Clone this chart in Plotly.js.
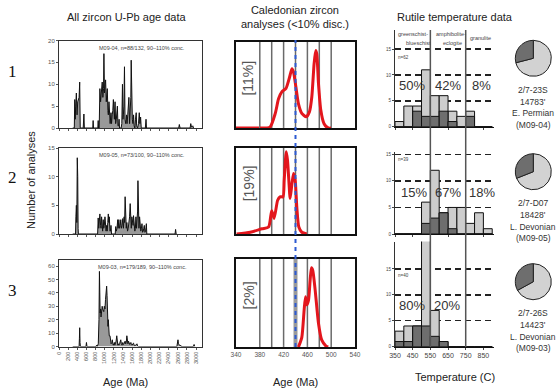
<!DOCTYPE html>
<html><head><meta charset="utf-8">
<script src="https://cdn.plot.ly/plotly-3.0.1.min.js"></script>
<style>html,body{margin:0;padding:0;background:#fff}#c{width:556px;height:388px}</style>
</head><body><div id="c"></div>
<script>
// ---------- DATA ----------
// Left: all zircon U-Pb ages (Ma) and number of analyses
const age1 = [300,335,345,355,365,380,395,410,440,453,465,530,545,555,740,747,755,850,858,866,880,895,910,925,946,960,975,983,995,1010,1020,1035,1045,1057,1070,1080,1094,1110,1120,1138,1150,1165,1178,1190,1200,1212,1227,1240,1255,1278,1290,1305,1315,1325,1360,1375,1389,1400,1410,1420,1433,1445,1460,1478,1490,1505,1520,1530,1545,1560,1572,1580,1590,1605,1618,1632,1645,1660,1675,1690,1700,1720,1740,1757,1770,1786,1800,1890,1905,1915,2620,2634,2650,2870,2884,2900,2928,2945];
const cnt1 = [0,0,6.5,2,5,8,3,6,7,10.5,0,0,3.2,0,0,1.7,0,0,1.7,0,0,9,6,8,10.5,7,9,17,8,10,11,6,8,9,4,3,6,2,1,3.5,1,3,4,6.5,3,2,6,1,2,5,0.5,0.5,2,0,0,1,10,2,3,5,14,2,1,3,1,3,6,7,1,4,7,15.5,3,2,1,3,0.5,0,2,3.5,0.5,0,1,3.5,1,2.5,0,0,2,0,0,0.8,0,0,1,0.2,0.5,0];
const age2 = [300,362,370,380,390,400,410,418,425,845,858,870,882,895,910,920,932,945,955,968,980,992,1006,1020,1030,1043,1055,1068,1079,1090,1101,1115,1125,1138,1150,1230,1242,1255,1270,1285,1295,1310,1325,1340,1352,1365,1380,1397,1410,1425,1436,1447,1460,1472,1485,1500,1515,1530,1545,1558,1570,1582,1595,1610,1622,1631,1645,1660,1672,1684,1697,1710,1720,1728,1738,1750,1764,1775,1790,1805,1816,1828,1845,1855,1867,1880,1895,1905,1912,1922,2540,2552,2565];
const cnt2 = [0,0,3,5,2,13.3,10,1,0,0,2.8,1,2,3.5,1.5,1,3,1,0.5,2.5,1,1.5,3,1,0.5,1.5,0.5,2,3.5,2,3,0.5,0.5,1.5,0,0,1.3,0.5,1,2.5,1,2.5,1,1.5,2.5,1,1.5,2.7,1,3,2,6.5,2,1,2,0.5,1,2,3,5.3,2,1,3,2,1.5,3.2,1,0.5,1,3,1,2,4,9.3,2,1,3,0.5,0.5,1,1.8,0.3,0.5,1,1.5,0.3,0.5,1.2,1.8,0,0,0.8,0];
const age3 = [300,440,447,453,460,468,590,601,612,810,822,835,860,875,885,893,900,910,920,932,945,955,968,980,992,1006,1018,1030,1043,1052,1062,1072,1079,1090,1100,1116,1128,1140,1155,1167,1178,1190,1200,1211,1222,1235,1250,1264,1275,1288,1300,1312,1325,1340,1352,1365,1380,1397,1410,1425,1435,1447,1460,1472,1485,1495,1508,1521,1535,1548,1560,1573,1585,1600,1615,1631,1645,1660,1680,1695,1706,1720,1735,2580,2593,2604,2615,2630,2650,2663,2675,2940,2957,2970];
const cnt3 = [0,0,6,14,3,0,0,3,0,0,1,0,2,20,56,40,25,28,22,25,30,28,27,26,30,28,35,42,45,38,20,15,20,10,8,8,3,2,3,5,2,1,2,3,1,2,4,8,2,1,2,1,2,3,5,2,1,3,1.5,2,3,4,2,3,8,3,2,4,2,1.5,2,3,1.5,1,2,2.5,1,0.5,1,2,2,0.5,0,0,2,5,2,1,0.5,1,0,0,1.5,0];
const sampleLabels = ["M09-04, n=88/132, 90\u2013110% conc.","M09-05, n=73/100, 90\u2013110% conc.","M09-03, n=179/189, 90\u2013110% conc."];
const ageTicks = [0,200,400,600,800,1000,1200,1400,1600,1800,2000,2200,2400,2600,2800,3000];

// Middle: Caledonian zircon probability curves (relative density)
const cal1Age = [340,380,397,406,411.5,417,424,430,434,436.7,440.6,445,450.6,458,463.5,467.4,471.3,474,475.8,478.6,482.5,488,495,500];
const cal1Den = [0,0,0.01,0.17,0.34,0.42,0.46,0.59,0.69,0.65,0.48,0.28,0.17,0.13,0.19,0.36,0.75,0.90,0.86,0.52,0.21,0.05,0,0];
const cal2Age = [341,364,383.6,394.8,400,404,410,414,419,421,424.4,426.6,428.8,431,434,436.7,439.5,442.2,445.6,450.6,459];
const cal2Den = [0,0.02,0.06,0.08,0.27,0.18,0.39,0.43,0.43,0.62,0.95,0.85,0.62,0.41,0.58,0.70,0.62,0.31,0.08,0.02,0];
const cal3Age = [445,450.6,454.5,456.8,459,461.8,464.6,466.8,469,473,478.6,484,491.4,495];
const cal3Den = [0,0.11,0.42,0.57,0.48,0.53,0.76,0.90,0.87,0.65,0.27,0.08,0.01,0];
const calPct = ["[11%]","[19%]","[2%]"];
const calGrid = [380,400,420,440,460,480,500];
const caledonianAge = 440;
const calTicks = [340,380,420,460,500,540];

// Right: rutile temperature histograms (50 C bins)
const tempBins = [375,425,475,525,575,625,675,725,775,825,875];
const r1Total = [1,4,4,11,6,6,3,2,3,0,0];
const r1Dark  = [0,0,3,2,2,3,1,0,2,0,0];
const r2Total = [0,0,0,6,12,4,5,5,2,4,1];
const r2Dark  = [0,0,0,2,3,4,1,0,0,0,0];
const r3Total = [3,4,4,21,7,1,0,0,0,0,0];
const r3Dark  = [1,1,4,4,2,1,0,0,0,0,0];
const faciesBounds = [550,750];
const faciesPct = [["50%","42%","8%"],["15%","67%","18%"],["80%","20%"]];
const faciesPctT = [[445,650,840],[455,650,840],[445,645]];
const rutileN = ["n=62","n=39","n=40"];
const tempTicks = [350,450,550,650,750,850];

// Pies (dark fraction)
const pieDark = [0.29,0.31,0.33];
const pieLabels = [["2/7-23S","14783'","E. Permian","(M09-04)"],["2/7-D07","18428'","L. Devonian","(M09-05)"],["2/7-26S","14423'","L. Devonian","(M09-03)"]];
const rowNames = ["1","2","3"];

// ---------- LAYOUT HELPERS ----------
const W=556,H=388;
const FONT="Liberation Sans, Arial, sans-serif";
const xd=(a,b)=>[a/W,b/W];
const yd=(t,b)=>[1-b/H,1-t/H];
const px=x=>x/W, py=y=>1-y/H;

const leftRows=[[40.5,128],[148,234],[260,346.5]];
const leftYR=[[0,20],[0,15],[0,64.5]];
const leftYT=[[0,5,10,15,20],[0,5,10,15],[0,10,20,30,40,50,60]];
const midRows=[[42,128],[147.5,234],[259,347]];
const rightRows=[[30,126.7],[151.7,234],[241.5,346.7]];
const rightYR=[[0,18.7],[0,15.5],[0,20.3]];

const ages=[age1,age2,age3], cnts=[cnt1,cnt2,cnt3];
const calA=[cal1Age,cal2Age,cal3Age], calD=[cal1Den,cal2Den,cal3Den];
const rT=[r1Total,r2Total,r3Total], rD=[r1Dark,r2Dark,r3Dark];

const data=[]; const layout={
  width:W,height:H,margin:{l:0,r:0,t:0,b:0},paper_bgcolor:'#fff',plot_bgcolor:'rgba(0,0,0,0)',
  showlegend:false,barmode:'overlay',bargap:0,font:{family:FONT,color:'#222'},
  shapes:[],annotations:[]
};
function ax(n){return n===1?'':String(n);}

for(let r=0;r<3;r++){
  // left
  const nL=1+r, nM=4+r, nR=7+r;
  data.push({type:'scatter',mode:'lines',x:ages[r],y:cnts[r],xaxis:'x'+ax(nL),yaxis:'y'+ax(nL),
    line:{color:'#111',width:1},fill:'tozeroy',fillcolor:'#999999',hoverinfo:'skip'});
  layout['xaxis'+ax(nL)]={domain:xd(59,202),range:[0,3130],anchor:'y'+ax(nL),showline:true,mirror:true,linecolor:'#333',linewidth:1,
    showgrid:false,zeroline:false,ticks:'outside',ticklen:2,tickcolor:'#555',tickvals:ageTicks,
    showticklabels:r===2,tickangle:-90,tickfont:{size:5.5,color:'#555',family:FONT}};
  layout['yaxis'+ax(nL)]={domain:yd(...leftRows[r]),range:leftYR[r],anchor:'x'+ax(nL),showline:true,mirror:true,linecolor:'#333',linewidth:1,
    showgrid:false,zeroline:false,ticks:'outside',ticklen:2,tickcolor:'#555',tickvals:leftYT[r],tickfont:{size:6,color:'#555',family:FONT}};
  layout.annotations.push({xref:'paper',yref:'paper',x:px(142),y:py(leftRows[r][0]+7),text:sampleLabels[r],showarrow:false,
    font:{size:5.5,color:'#444'},xanchor:'center',yanchor:'middle'});
  // middle
  data.push({type:'scatter',mode:'lines',x:calA[r],y:calD[r],xaxis:'x'+nM,yaxis:'y'+nM,
    line:{color:'#e3161d',width:3,shape:'spline',smoothing:0.6},hoverinfo:'skip'});
  layout['xaxis'+nM]={domain:xd(236,355),range:[340,540],anchor:'y'+nM,showline:true,mirror:true,linecolor:'#111',linewidth:2,
    showgrid:false,zeroline:false,ticks:'inside',ticklen:2,tickcolor:'#777',tickvals:calTicks,
    showticklabels:r===2,tickfont:{size:6.5,color:'#555',family:FONT}};
  layout['yaxis'+nM]={domain:yd(...midRows[r]),range:[0,1],anchor:'x'+nM,showline:true,mirror:true,linecolor:'#111',linewidth:2,
    showgrid:false,zeroline:false,showticklabels:false,ticks:''};
  calGrid.forEach(v=>layout.shapes.push({type:'line',xref:'x'+nM,yref:'y'+nM+' domain',x0:v,x1:v,y0:0,y1:1,
    line:{color:(v===caledonianAge&&r===2)?'#9a9a9a':'#6a6a6a',width:(v===caledonianAge&&r===2)?4:1.5},layer:'below'}));
  layout.annotations.push({xref:'x'+nM,yref:'y'+nM,x:361,y:0.58,text:calPct[r],textangle:-90,showarrow:false,
    font:{size:14,color:'#555'},xanchor:'center',yanchor:'middle'});
  // right
  data.push({type:'bar',x:tempBins,y:rT[r],width:50,xaxis:'x'+nR,yaxis:'y'+nR,marker:{color:'#cdcdcd',line:{color:'#111',width:1}},hoverinfo:'skip'});
  data.push({type:'bar',x:tempBins,y:rD[r],width:50,xaxis:'x'+nR,yaxis:'y'+nR,marker:{color:'#6e6e6e',line:{color:'#111',width:1}},hoverinfo:'skip'});
  layout['xaxis'+nR]={domain:xd(395,494),range:[350,910],anchor:'y'+nR,showline:true,linecolor:'#111',linewidth:1.2,
    showgrid:false,zeroline:false,ticks:'outside',ticklen:2,tickcolor:'#444',tickvals:tempTicks,
    showticklabels:r===2,tickfont:{size:7,color:'#444',family:FONT}};
  layout['yaxis'+nR]={domain:yd(...rightRows[r]),range:rightYR[r],anchor:'x'+nR,showline:true,linecolor:'#333',linewidth:1,
    showgrid:true,gridcolor:'#222',gridwidth:1.4,griddash:'6px,4px',zeroline:false,ticks:'outside',ticklen:2,tickcolor:'#444',
    tickvals:[0,5,10,15],tickfont:{size:4.5,color:'#444',family:FONT}};
  layout.annotations.push({xref:'x'+nR,yref:'y'+nR,x:356,y:r===0?13.3:(r===1?14:13.7),text:rutileN[r],showarrow:false,
    font:{size:4.5,color:'#444'},xanchor:'left',yanchor:'middle'});
  faciesPct[r].forEach((t,i)=>layout.annotations.push({xref:'x'+nR,yref:'y'+nR,x:faciesPctT[r][i],y:7.9,text:t,showarrow:false,
    font:{size:13,color:'#333'},xanchor:'center',yanchor:'middle'}));
  // pie: light slice first, drawn counterclockwise, so the dark slice sits upper-left of 12 o'clock
  const c=[58.3,171.7,281.7][r];
  data.push({type:'pie',values:[1-pieDark[r],pieDark[r]],sort:false,direction:'counterclockwise',rotation:0,
    marker:{colors:['#d2d2d2','#6e6e6e'],line:{color:'#222',width:1}},textinfo:'none',hoverinfo:'skip',
    domain:{x:xd(515.3,551.3),y:yd(c-18,c+18)}});
  pieLabels[r].forEach((t,i)=>layout.annotations.push({xref:'paper',yref:'paper',x:px(533),y:py(c+31.7+i*11.6),text:t,showarrow:false,
    font:{size:8.5,color:'#333'},xanchor:'center',yanchor:'middle'}));
  // row label
  layout.annotations.push({xref:'paper',yref:'paper',x:px(12),y:py([71.7,177.7,290][r]),text:rowNames[r],showarrow:false,
    font:{size:17,color:'#111',family:'Liberation Serif, Times New Roman, serif'},xanchor:'center',yanchor:'middle'});
}
// blue dashed Caledonian line across the three middle panels
layout.shapes.push({type:'line',xref:'x4',yref:'paper',x0:caledonianAge,x1:caledonianAge,y0:py(347),y1:py(40),
  line:{color:'#2d5ad2',width:2,dash:'4px,4px'},layer:'above'});
// facies boundaries across the right panels
faciesBounds.forEach(v=>layout.shapes.push({type:'line',xref:'x7',yref:'paper',x0:v,x1:v,y0:py(347),y1:py(30),
  line:{color:'#555',width:1.5},layer:'above'}));
// facies names
[["greenschist-",413,33.5],["blueschist",418,43],["amphibolite-",451,33.5],["eclogite",452,43],["granulite",480,38]].forEach(a=>
  layout.annotations.push({xref:'paper',yref:'paper',x:px(a[1]),y:py(a[2]),text:a[0],showarrow:false,font:{size:5.5,color:'#444'},xanchor:'center',yanchor:'middle'}));
// titles & axis labels
[["All zircon U-Pb age data",126.7,16.7],["Caledonian zircon<br>analyses (<10% disc.)",295,17.5],["Rutile temperature data",455,16.7],
 ["Age (Ma)",125,381.5],["Age (Ma)",295,381.5],["Temperature (C)",455,377]].forEach(a=>
  layout.annotations.push({xref:'paper',yref:'paper',x:px(a[1]),y:py(a[2]),text:a[0],showarrow:false,font:{size:11,color:'#222'},xanchor:'center',yanchor:'middle'}));
layout.annotations.push({xref:'paper',yref:'paper',x:px(31),y:py(180),text:'Number of analyses',textangle:-90,showarrow:false,
  font:{size:11,color:'#222'},xanchor:'center',yanchor:'middle'});

Plotly.newPlot('c',data,layout,{staticPlot:true,displayModeBar:false});
</script></body></html>
